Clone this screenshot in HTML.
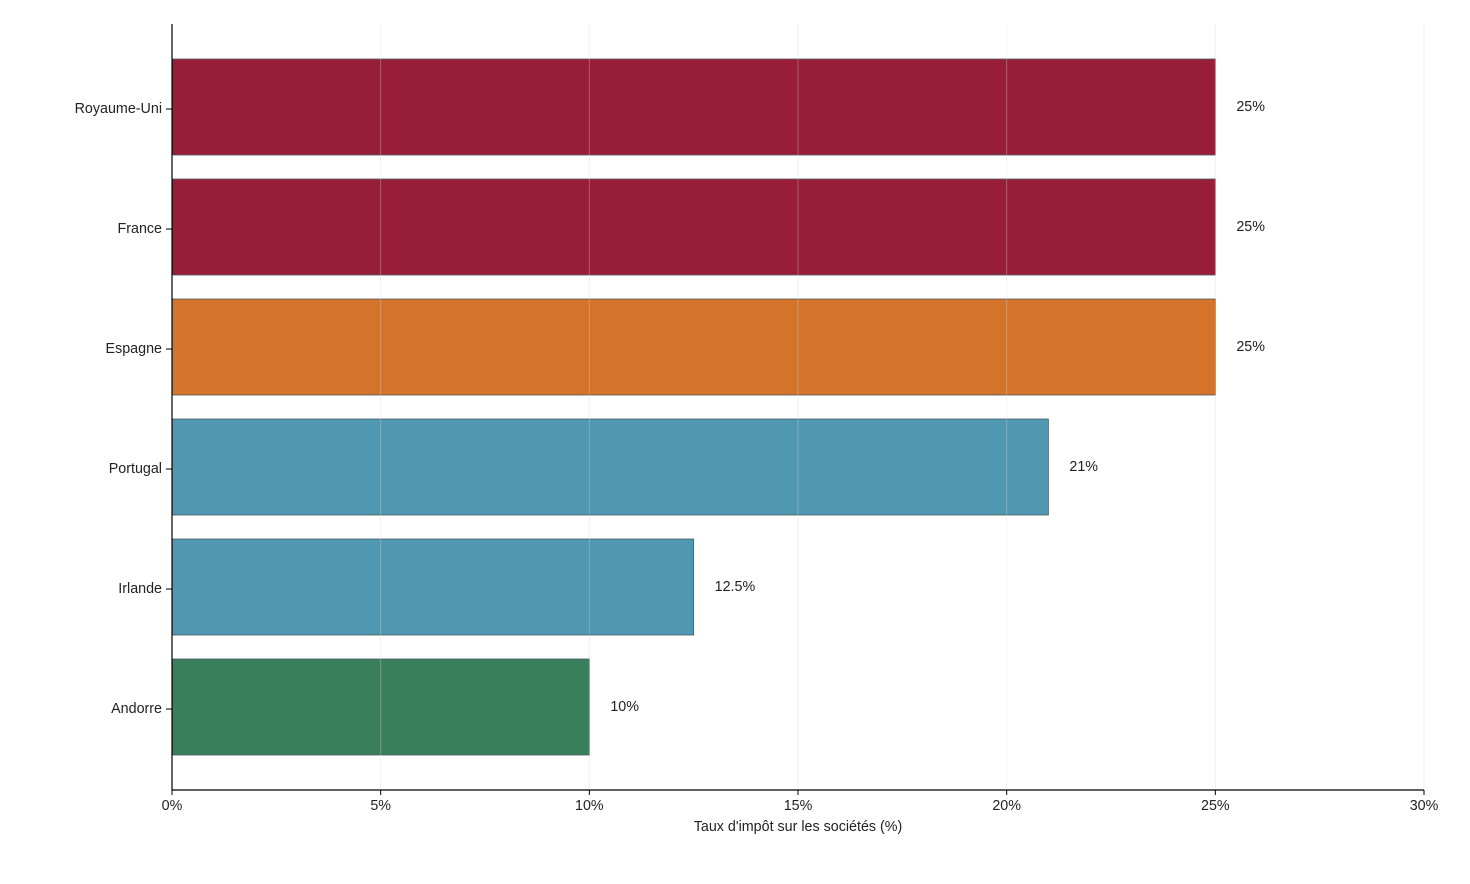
<!DOCTYPE html>
<html><head><meta charset="utf-8"><style>
html,body{margin:0;padding:0;background:#fff;}
svg{display:block;font-family:"Liberation Sans",sans-serif;}
</style></head><body>
<svg id="chart" width="1470" height="884"></svg>
<script>
const categories = ["Royaume-Uni","France","Espagne","Portugal","Irlande","Andorre"];
const values = [25,25,25,21,12.5,10];
const valueLabels = ["25%","25%","25%","21%","12.5%","10%"];
const colors = ["#971e36","#971e36","#d4742b","#5098b2","#5098b2","#3a7f5c"];
const ticks = [0,5,10,15,20,25,30];
const tickLabels = ["0%","5%","10%","15%","20%","25%","30%"];

const NS="http://www.w3.org/2000/svg";
const svg=document.getElementById('chart');
const L=172,R=1424,T=24,B=790,xMax=30,band=120,pad=83,barH=96,FS=14.3;
const x=v=>L+(R-L)*v/xMax;
const yc=i=>T+pad+i*band;
function mk(tag,attrs,parent){const e=document.createElementNS(NS,tag);for(const k in attrs)e.setAttribute(k,attrs[k]);(parent||svg).appendChild(e);return e;}

categories.forEach((c,i)=>{
  const r=mk('rect',{x:x(0),y:yc(i)-barH/2,width:x(values[i])-x(0),height:barH,fill:colors[i],stroke:'#4a5a60','stroke-width':0.8});
  
  
  const t=mk('text',{x:x(values[i])+21,y:yc(i)+4,'font-size':FS,fill:'#222'});
  t.textContent=valueLabels[i];
  
  
  const yl=mk('text',{x:162,y:yc(i)+6,'font-size':FS,fill:'#222','text-anchor':'end'});
  yl.textContent=c;
  
  
  mk('line',{x1:166,x2:L,y1:yc(i)+2,y2:yc(i)+2,stroke:'#000','stroke-width':1});
});
ticks.forEach((v,i)=>{
  if(v>0){const g=mk('line',{x1:x(v),x2:x(v),y1:T,y2:B,stroke:'rgba(215,215,215,0.35)','stroke-width':1});
  
  }
  mk('line',{x1:x(v),x2:x(v),y1:B,y2:B+5,stroke:'#000','stroke-width':1});
  const t=mk('text',{x:x(v),y:B+20,'font-size':FS,fill:'#222','text-anchor':'middle'});
  t.textContent=tickLabels[i];
  
  
});
const ya=mk('line',{x1:L,x2:L,y1:T,y2:B,stroke:'#000','stroke-width':1.2});


const xa=mk('line',{x1:L,x2:R,y1:B,y2:B,stroke:'#000','stroke-width':1.2});


const xt=mk('text',{x:(L+R)/2,y:831,'font-size':FS,fill:'#222','text-anchor':'middle'});
xt.textContent="Taux d'impôt sur les sociétés (%)";


</script>
</body></html>
